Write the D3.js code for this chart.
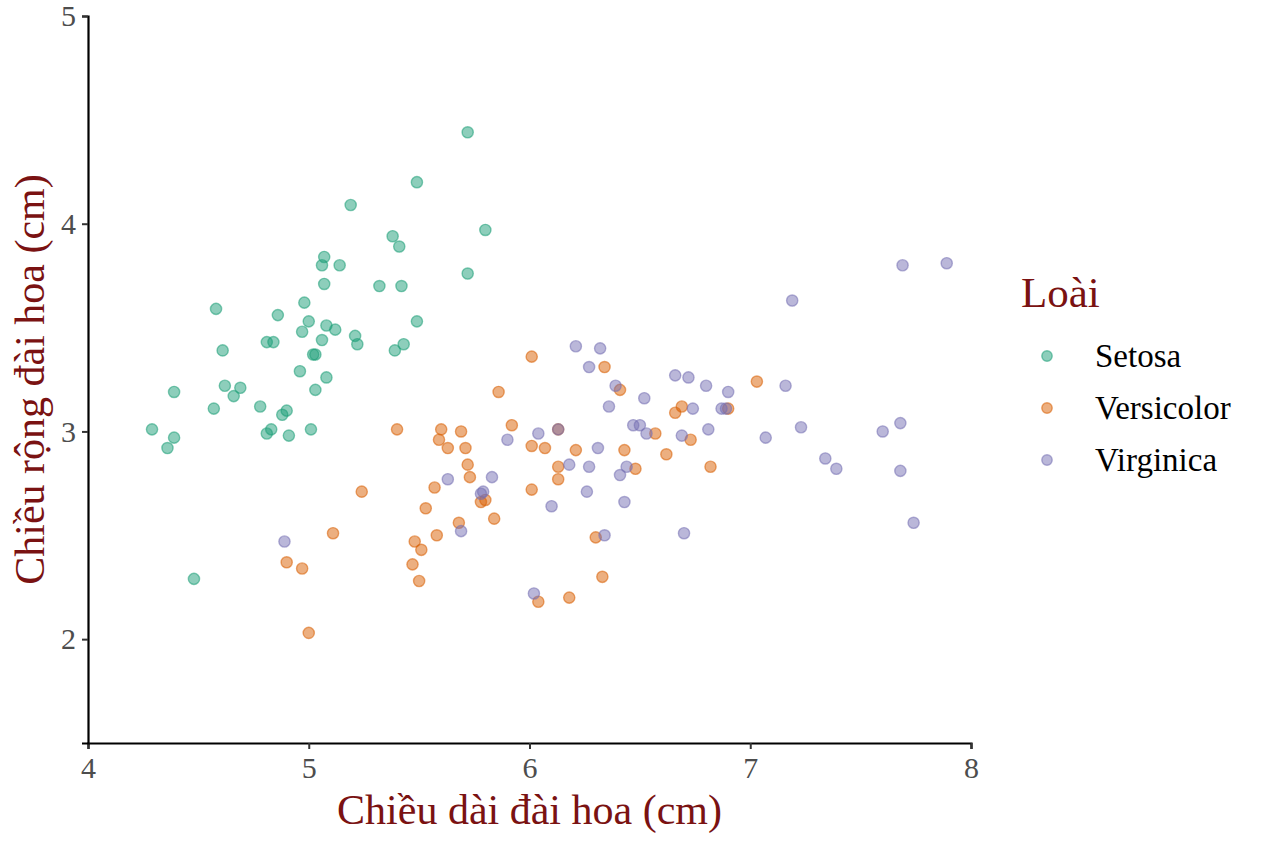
<!DOCTYPE html>
<html>
<head>
<meta charset="utf-8">
<script src="https://cdn.jsdelivr.net/npm/d3@7"></script>
<style>
  body { margin: 0; background: #fff; }
  text { font-family: "Liberation Serif", "DejaVu Serif", serif; }
</style>
</head>
<body>
<div id="chart"></div>
<script>
// values (jittered iris sepals)
const species = ['Setosa', 'Versicolor', 'Virginica'];
const colors = ['#1b9e77', '#d95f02', '#7570b3'];

const setosaX = [5.72, 5.49, 5.19, 5.80, 5.38, 5.41, 5.14, 5.72, 5.32, 5.42, 5.49,
  5.07, 5.06, 5.07, 4.98, 4.58, 4.86, 5.00,
  5.08, 4.97, 5.06, 4.81, 4.84, 4.61, 5.02, 5.03, 4.96, 5.08, 4.39, 4.62, 4.69, 4.66, 5.03,
  4.57, 4.78, 4.88, 4.90, 4.29, 4.39, 4.36, 4.81, 4.83, 4.91, 5.01,
  5.12, 5.21, 5.22, 5.43, 5.39, 4.48];
const setosaY = [4.44, 4.20, 4.09, 3.97, 3.94, 3.89, 3.80, 3.76, 3.70, 3.70, 3.53,
  3.84, 3.80, 3.71, 3.62, 3.59, 3.56, 3.53,
  3.51, 3.48, 3.44, 3.43, 3.43, 3.39, 3.37, 3.37, 3.29, 3.26, 3.19, 3.22, 3.21, 3.17, 3.20,
  3.11, 3.12, 3.08, 3.10, 3.01, 2.97, 2.92, 2.99, 3.01, 2.98, 3.01,
  3.49, 3.46, 3.42, 3.42, 3.39, 2.29];

const versicolorX = [6.01, 6.34, 6.41, 6.66, 6.69, 6.57, 6.73, 6.01, 6.07, 6.21,
  6.43, 6.62, 6.82, 6.13, 6.13, 6.48, 6.01, 6.13, 6.30, 6.33,
  6.04, 6.18, 7.03, 6.90, 5.86, 5.40, 5.60, 5.69, 5.92, 5.59,
  5.63, 5.71, 5.72, 5.73, 5.57, 5.24, 5.78, 5.80, 5.53, 5.84,
  5.68, 5.11, 5.48, 5.51, 5.58, 4.90, 4.97, 5.47, 5.50, 5.00];
const versicolorY = [3.36, 3.31, 3.20, 3.09, 3.12, 2.99, 2.96, 2.93, 2.92, 2.91,
  2.91, 2.89, 2.83, 2.83, 2.77, 2.82, 2.72, 3.01, 2.49, 2.30,
  2.18, 2.20, 3.24, 3.11, 3.19, 3.01, 3.01, 3.00, 3.03, 2.96,
  2.92, 2.92, 2.84, 2.78, 2.73, 2.71, 2.66, 2.67, 2.63, 2.58,
  2.56, 2.51, 2.47, 2.43, 2.50, 2.37, 2.34, 2.36, 2.28, 2.03];

const virginicaX = [5.90, 5.63, 5.83, 5.79, 5.78, 4.89, 5.69, 6.21, 6.32, 6.27,
  6.39, 6.52, 6.36, 6.66, 6.72, 6.80, 6.74, 6.81, 6.47, 6.50,
  6.53, 6.69, 6.04, 6.31, 6.18, 6.27, 6.44, 6.41, 6.26, 6.10,
  6.43, 6.34, 6.70, 6.02, 7.69, 7.89, 7.19, 6.90, 7.16, 6.87,
  6.89, 7.07, 7.23, 7.60, 7.68, 7.34, 7.39, 7.68, 7.74, 6.13];
const virginicaY = [2.96, 2.77, 2.78, 2.71, 2.70, 2.47, 2.52, 3.41, 3.40, 3.31,
  3.22, 3.16, 3.12, 3.27, 3.26, 3.22, 3.11, 3.01, 3.03, 3.03,
  2.99, 2.98, 2.99, 2.92, 2.84, 2.83, 2.83, 2.79, 2.71, 2.64,
  2.66, 2.50, 2.51, 2.22, 3.80, 3.81, 3.63, 3.19, 3.22, 3.11,
  3.11, 2.97, 3.02, 3.00, 3.04, 2.87, 2.82, 2.81, 2.56, 3.01];

const xTicks = [4, 5, 6, 7, 8];
const yTicks = [2, 3, 4, 5];

const seriesX = [setosaX, versicolorX, virginicaX];
const seriesY = [setosaY, versicolorY, virginicaY];
const points = [];
species.forEach((s, i) => {
  seriesX[i].forEach((x, j) => points.push({ species: s, x: x, y: seriesY[i][j] }));
});

const width = 1264, height = 848;
const margin = { left: 88, right: 293, top: 16, bottom: 105 };

const svg = d3.select('#chart').append('svg')
  .attr('width', width)
  .attr('height', height);

const x = d3.scaleLinear().domain([4, 8]).range([margin.left, width - margin.right]);
const y = d3.scaleLinear().domain([1.5, 5]).range([height - margin.bottom, margin.top]);
const color = d3.scaleOrdinal().domain(species).range(colors);

// axes
const xAxis = svg.append('g')
  .attr('transform', `translate(0,${height - margin.bottom})`)
  .call(d3.axisBottom(x).tickValues(xTicks).tickFormat(d3.format('d')).tickSize(6).tickPadding(5));
const yAxis = svg.append('g')
  .attr('transform', `translate(${margin.left},0)`)
  .call(d3.axisLeft(y).tickValues(yTicks).tickFormat(d3.format('d')).tickSize(6).tickPadding(6));

[xAxis, yAxis].forEach(g => {
  g.select('.domain').attr('stroke', '#000').attr('stroke-width', 2.2);
  g.selectAll('.tick line').attr('stroke', '#333').attr('stroke-width', 2);
  g.selectAll('.tick text')
    .attr('fill', '#4d4d4d')
    .style('font-family', '"Liberation Serif", serif')
    .style('font-size', '30px');
});
xAxis.selectAll('.tick text').attr('dy', '0.8em');

// points
svg.append('g')
  .selectAll('circle')
  .data(points)
  .enter()
  .append('circle')
  .attr('cx', d => x(d.x))
  .attr('cy', d => y(d.y))
  .attr('r', 5.6)
  .attr('fill', d => color(d.species))
  .attr('fill-opacity', 0.5)
  .attr('stroke', d => color(d.species))
  .attr('stroke-opacity', 0.55)
  .attr('stroke-width', 1.4);

// axis titles
const titleColor = '#7a1212';
svg.append('text')
  .attr('x', (x(4) + x(8)) / 2)
  .attr('y', 824)
  .attr('text-anchor', 'middle')
  .attr('fill', titleColor)
  .style('font-size', '42px')
  .text('Chiều dài đài hoa (cm)');

svg.append('text')
  .attr('transform', `translate(44,${(y(1.5) + y(5)) / 2}) rotate(-90)`)
  .attr('text-anchor', 'middle')
  .attr('fill', titleColor)
  .style('font-size', '42px')
  .text('Chiều rộng đài hoa (cm)');

// legend
const legend = svg.append('g').attr('transform', 'translate(1021,0)');
legend.append('text')
  .attr('x', 0)
  .attr('y', 307)
  .attr('fill', titleColor)
  .style('font-size', '43px')
  .text('Loài');

const items = legend.selectAll('.item')
  .data(species)
  .enter()
  .append('g')
  .attr('class', 'item')
  .attr('transform', (d, i) => `translate(0,${356 + i * 52})`);

items.append('circle')
  .attr('cx', 26)
  .attr('cy', 0)
  .attr('r', 5.2)
  .attr('fill', d => color(d))
  .attr('fill-opacity', 0.5)
  .attr('stroke', d => color(d))
  .attr('stroke-opacity', 0.55)
  .attr('stroke-width', 1.4);

items.append('text')
  .attr('x', 74)
  .attr('y', 11)
  .attr('fill', '#000')
  .style('font-size', '33px')
  .text(d => d);
</script>
</body>
</html>
